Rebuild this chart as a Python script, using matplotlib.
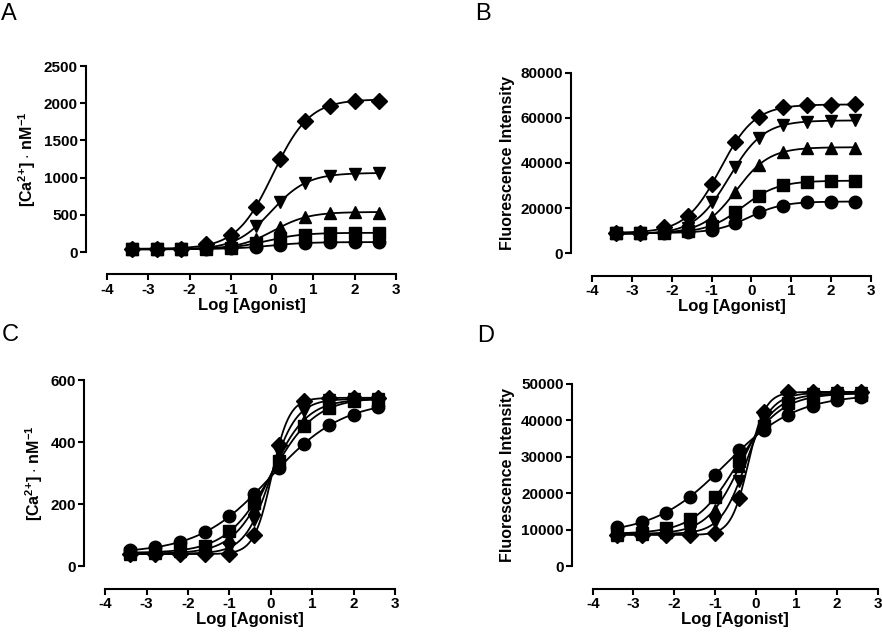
import numpy as np
import matplotlib
matplotlib.use("Agg")
import matplotlib.pyplot as plt

plt.rcParams['font.family'] = ['Liberation Sans', 'DejaVu Sans']
plt.rcParams['font.weight'] = 'bold'
plt.rcParams['axes.unicode_minus'] = False
plt.rcParams['mathtext.fontset'] = 'custom'
plt.rcParams['mathtext.rm'] = 'Liberation Sans:bold'
plt.rcParams['mathtext.default'] = 'rm'

# log agonist concentrations (same for every series)
log_x = [-3.4, -2.8, -2.2, -1.6, -1.0, -0.4, 0.2, 0.8, 1.4, 2.0, 2.6]
markers = ['o', 's', '^', 'v', 'D']

# panel A - [Ca2+]
a_circle = [40, 40, 40, 42, 50, 67, 98, 121, 130, 130, 134]
a_square = [40, 40, 40, 44, 60, 120, 188, 233, 255, 255, 258]
a_up = [40, 40, 40, 48, 80, 175, 331, 470, 524, 533, 530]
a_down = [40, 40, 40, 50, 120, 345, 672, 927, 1026, 1053, 1062]
a_diamond = [40, 40, 42, 107, 233, 605, 1250, 1765, 1967, 2034, 2034]

# panel B - fluorescence
b_circle = [9000, 9000, 9100, 9300, 10300, 13300, 18150, 21100, 22600, 22900, 22900]
b_square = [9000, 9000, 9200, 9800, 12300, 18450, 25400, 30300, 31700, 32000, 32000]
b_up = [9000, 9000, 9400, 10200, 16200, 27300, 39100, 45000, 46800, 46800, 46800]
b_down = [9000, 9000, 9600, 11000, 22900, 38400, 50900, 56800, 58300, 58700, 59000]
b_diamond = [9000, 9000, 11800, 16500, 30560, 49400, 60500, 64600, 65500, 65500, 66000]

# panel C - [Ca2+]
c_circle = [52, 61, 78, 110, 161, 234, 317, 395, 455, 489, 513]
c_square = [42, 45, 55, 67, 115, 204, 339, 452, 511, 532, 537]
c_up = [40, 42, 48, 55, 90, 185, 355, 468, 520, 535, 540]
c_down = [40, 40, 42, 45, 60, 150, 370, 500, 535, 540, 540]
c_diamond = [40, 40, 40, 40, 40, 102, 392, 532, 543, 543, 543]

# panel D - fluorescence
d_circle = [10700, 12100, 14600, 19000, 25100, 31750, 37400, 41300, 44000, 45600, 46350]
d_square = [8800, 9200, 10500, 12950, 19000, 28700, 38300, 44700, 46350, 46800, 47000]
d_up = [8700, 8800, 9500, 11000, 15300, 27400, 39000, 45500, 46800, 47200, 47300]
d_down = [8700, 8700, 9000, 9500, 12100, 23300, 40000, 46500, 47300, 47500, 47500]
d_diamond = [8700, 8700, 8700, 8500, 9100, 18700, 42150, 47700, 47700, 47700, 47700]

ca_label = r'[Ca$^{2{+}}$] $\cdot$ nM$^{-1}$'
fl_label = 'Fluorescence Intensity'


def fit_sigmoid(x, y):
    # 4-parameter logistic fit by grid search on EC50/Hill, linear solve for bottom/top
    x = np.asarray(x, float)
    y = np.asarray(y, float)
    ec = np.linspace(-3, 2, 251)
    h = np.linspace(0.3, 3.5, 161)
    E, H = np.meshgrid(ec, h)
    E = E.ravel()[:, None]
    H = H.ravel()[:, None]
    f = 1.0 / (1.0 + 10 ** ((E - x[None, :]) * H))
    fm = f.mean(1, keepdims=True)
    ym = y.mean()
    slope = ((f - fm) * (y - ym)).sum(1) / ((f - fm) ** 2).sum(1)
    inter = ym - slope * fm[:, 0]
    sse = ((inter[:, None] + slope[:, None] * f - y) ** 2).sum(1)
    i = np.argmin(sse)
    return E[i, 0], H[i, 0], inter[i], slope[i]


panels = [
    ('A', [a_circle, a_square, a_up, a_down, a_diamond], 2500, 500, ca_label,
     [107, 66, 396, 252], (1, 3)),
    ('B', [b_circle, b_square, b_up, b_down, b_diamond], 80000, 20000, fl_label,
     [592, 72.7, 871, 253.3], (475, 3)),
    ('C', [c_circle, c_square, c_up, c_down, c_diamond], 600, 200, ca_label,
     [105.3, 380.3, 395, 566.3], (2, 324)),
    ('D', [d_circle, d_square, d_up, d_down, d_diamond], 50000, 10000, fl_label,
     [592.7, 383.7, 877.7, 566.3], (477, 325)),
]

W, H_ = 882, 636
fig = plt.figure(figsize=(W / 100, H_ / 100), dpi=100)

for letter, series, ymax, ystep, ylab, box, lpos in panels:
    x0, y0, x1, y1 = box
    ax = fig.add_axes([x0 / W, 1 - y1 / H_, (x1 - x0) / W, (y1 - y0) / H_])
    xs = np.linspace(log_x[0], log_x[-1], 300)
    for vals, m in zip(series, markers):
        e, hh, b, s = fit_sigmoid(log_x, vals)
        ax.plot(xs, b + s / (1 + 10 ** ((e - xs) * hh)), color='black', lw=1.3,
                clip_on=False, zorder=2)
        ms = 8 if m == 'D' else 9
        ax.plot(log_x, vals, linestyle='none', marker=m, color='black', ms=ms,
                clip_on=False, zorder=3)
    ax.set_xlim(-4, 3)
    ax.set_ylim(0, ymax)
    ax.set_xticks(range(-4, 4))
    ax.set_yticks(np.arange(0, ymax + 1, ystep))
    for side in ['top', 'right']:
        ax.spines[side].set_visible(False)
    ax.spines['left'].set_position(('outward', 15))
    ax.spines['bottom'].set_position(('outward', 16))
    for side in ['left', 'bottom']:
        ax.spines[side].set_linewidth(1.5)
    ax.tick_params(width=1.5, length=4.5, labelsize=11, pad=1.5)
    ax.set_xlabel('Log [Agonist]', fontsize=12, fontweight='bold', labelpad=1)
    ax.set_ylabel(ylab, fontsize=11.5, fontweight='bold', labelpad=4)
    fig.text(lpos[0] / W, 1 - lpos[1] / H_, letter,
             fontsize=17, fontweight='normal', va='top', ha='left')

fig.savefig('out.png', dpi=100)
